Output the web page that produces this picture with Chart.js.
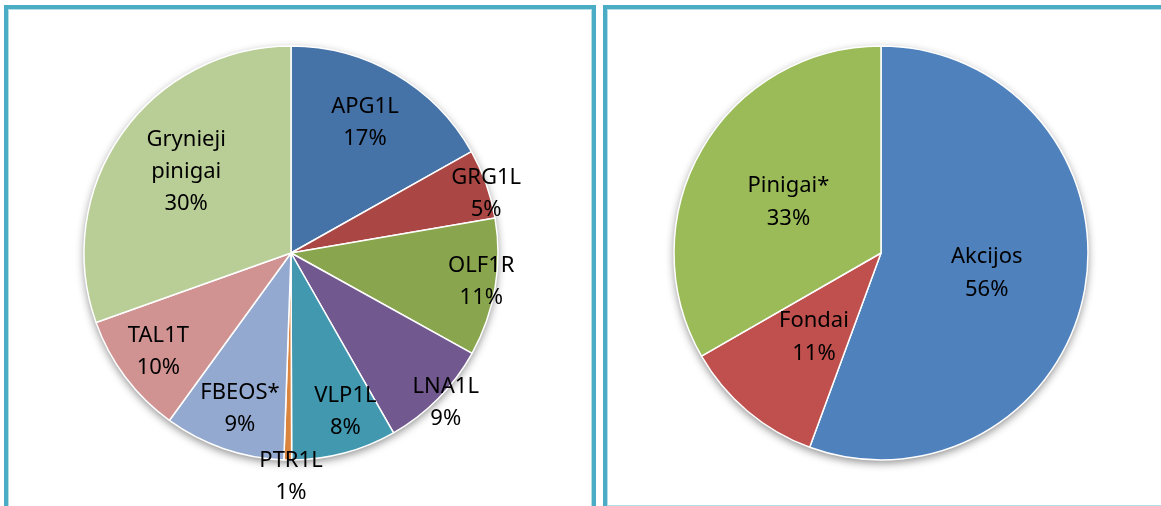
<!DOCTYPE html>
<html>
<head>
<meta charset="utf-8">
<script src="https://cdn.jsdelivr.net/npm/chart.js@4/dist/chart.umd.min.js"></script>
<style>
  html, body { margin: 0; padding: 0; background: #fff; overflow: hidden; width: 1161px; height: 506px; }
  .panel { position: absolute; border: 4px solid #4bacc6; box-shadow: inset 0 0 0 1px #b4dde8; box-sizing: border-box; }
  #p1 { left: 4px; top: 5px; width: 592px; height: 540px; }
  #p2 { left: 603px; top: 5px; width: 600px; height: 505px; }
  canvas { position: absolute; top: 0; }
  #c1 { left: 0; }
  #c2 { left: 600px; }
</style>
</head>
<body>
<div class="panel" id="p1"></div>
<div class="panel" id="p2"></div>
<canvas id="c1" width="582" height="506"></canvas>
<canvas id="c2" width="562" height="506"></canvas>
<script>
// left pie - holdings (%)
const holdings = ['APG1L', 'GRG1L', 'OLF1R', 'LNA1L', 'VLP1L', 'PTR1L', 'FBEOS*', 'TAL1T', 'Grynieji pinigai'];
const holdingShares = [16.85, 5.45, 10.75, 8.7, 8.2, 0.6, 9.45, 9.55, 30.45];
const holdingColors = ['#4572a7', '#aa4643', '#89a54e', '#71588f', '#4198af', '#db843d', '#93a9cf', '#d19392', '#b9cd96'];

// right pie - asset classes (%)
const assets = ['Akcijos', 'Fondai', 'Pinigai*'];
const assetShares = [55.6, 11.1, 33.3];
const assetColors = ['#4f81bd', '#c0504d', '#9bbb59'];

// label placement: fraction of radius, and turn in degrees from the slice middle
const holdingLabelPos = [0.725, 0.985, 0.93, 1.04, 0.81, 1.08, 0.79, 0.80, 0.64];
const holdingLabelTurn = [-0.8, 2.7, -0.9, -0.6, -4, -0.9, -0.8, 0, 2.5];
const assetLabelPos = [0.52, 0.52, 0.51];
const assetLabelTurn = [0.8, -1.6, -1.3];

const shadowPlugin = {
  id: 'pieShadow',
  beforeDatasetsDraw(chart) {
    const arc = chart.getDatasetMeta(0).data[0];
    if (!arc) return;
    const ctx = chart.ctx;
    ctx.save();
    ctx.shadowColor = 'rgba(0,0,0,0.45)';
    ctx.shadowBlur = 8;
    ctx.shadowOffsetY = 3;
    ctx.fillStyle = '#fff';
    ctx.beginPath();
    ctx.arc(arc.x, arc.y, arc.outerRadius, 0, Math.PI * 2);
    ctx.fill();
    ctx.restore();
  }
};

const labelPlugin = {
  id: 'sliceLabels',
  afterDatasetsDraw(chart, args, opts) {
    const ctx = chart.ctx;
    const ds = chart.data.datasets[0];
    const total = ds.data.reduce((a, b) => a + b, 0);
    ctx.save();
    ctx.font = '22px "Noto Sans"';
    ctx.fillStyle = '#000';
    ctx.textAlign = 'center';
    ctx.textBaseline = 'middle';
    chart.getDatasetMeta(0).data.forEach((arc, i) => {
      const mid = (arc.startAngle + arc.endAngle) / 2 + opts.turn[i] * Math.PI / 180;
      const r = arc.outerRadius * opts.pos[i];
      const x = arc.x + Math.cos(mid) * r;
      const y = arc.y + Math.sin(mid) * r;
      const lines = chart.data.labels[i].split(' ');
      lines.push(Math.round(ds.data[i] / total * 100) + '%');
      lines.forEach((t, k) => {
        ctx.fillText(t, x, y + (k - (lines.length - 1) / 2) * opts.lineHeight);
      });
    });
    ctx.restore();
  }
};

function makePie(id, labels, values, colors, pos, turn, lineHeight) {
  return new Chart(document.getElementById(id), {
    type: 'pie',
    data: {
      labels: labels,
      datasets: [{
        data: values,
        backgroundColor: colors,
        borderColor: '#fff',
        borderWidth: 1.5
      }]
    },
    options: {
      responsive: false,
      animation: false,
      radius: 207,
      layout: { padding: 0 },
      plugins: {
        legend: { display: false },
        tooltip: { enabled: false },
        sliceLabels: { pos: pos, turn: turn, lineHeight: lineHeight }
      }
    },
    plugins: [shadowPlugin, labelPlugin]
  });
}

makePie('c1', holdings, holdingShares, holdingColors, holdingLabelPos, holdingLabelTurn, 32);
makePie('c2', assets, assetShares, assetColors, assetLabelPos, assetLabelTurn, 33);
</script>
</body>
</html>
